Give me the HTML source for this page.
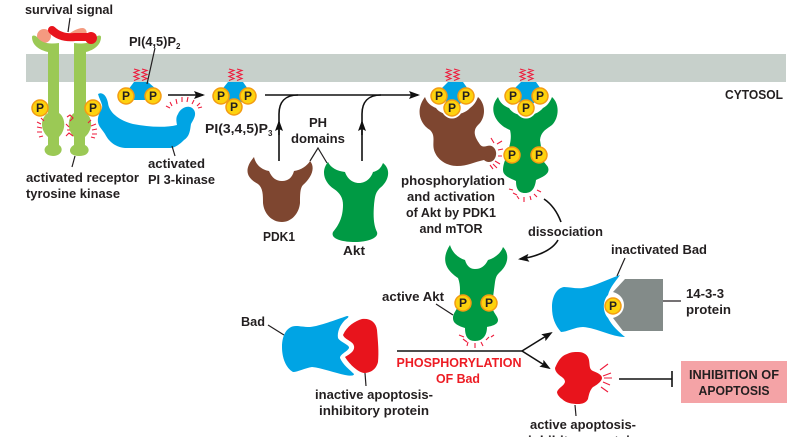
<!DOCTYPE html>
<html><head><meta charset="utf-8"><style>
html,body{margin:0;padding:0;background:#fff}
svg{display:block}
text{font-family:"Liberation Sans",sans-serif;font-weight:bold;font-size:13px;fill:#231f20}
.m{text-anchor:middle}
.l{stroke:#231f20;stroke-width:1.2;fill:none}
.a{stroke:#111;stroke-width:1.6;fill:none}
.r{stroke:#ee1c3c;stroke-width:1.1;fill:none}
.c{fill:#fdd20e;stroke:#f39c12;stroke-width:1.5}
.p{font-size:12px;text-anchor:middle}
</style></head><body>
<svg width="808" height="437" viewBox="0 0 808 437" xmlns="http://www.w3.org/2000/svg">
<defs><marker id="ah" markerWidth="11" markerHeight="8" refX="9" refY="4" orient="auto" markerUnits="userSpaceOnUse"><path d="M0,0L11,4L0,8L2,4Z" fill="#111"/></marker></defs>
<rect x="26" y="54" width="760" height="28" fill="#c7d0cb"/>

<!-- receptor -->
<circle cx="44" cy="36" r="7" fill="#f49a80"/>
<path d="M66,36C71,32 77,28 83,28C88,29 88,36 82,38Z" fill="#f49a80"/>
<path d="M32,37C32,45 39,50 48,52L48,113C40,118 40,130 48,137L48,145C42,148 44,156 53,156C62,156 64,148 59,145L59,137C66,130 66,118 59,113L59,43C50,44 42,44 37,37C35,35 32,35 32,37Z" fill="#9bc955"/>
<path d="M101,37C101,45 94,50 86,52L86,113C93,118 93,130 85,137L85,145C91,148 90,156 79,156C68,156 68,148 74,145L74,137C67,130 67,118 74,113L74,43C83,44 91,44 96,37C98,35 101,35 101,37Z" fill="#9bc955"/>
<path d="M52,30C58,36 66,38 75,37L90,37" stroke="#e8141c" stroke-width="8" stroke-linecap="round" fill="none"/>
<circle cx="91" cy="38" r="6" fill="#e8141c"/>
<path d="M70,18L68,32" class="l"/>
<circle cx="40" cy="108" r="8" class="c"/><text x="40" y="112" class="p">P</text>
<circle cx="93" cy="108" r="8" class="c"/><text x="93" y="112" class="p">P</text>
<path d="M41,118l3,3M37,122l4,2M37,127l5,1M37,132l5,0M39,137l4,-1M67,117l3,-2l3,3l-3,3M66,124l3,3M67,130l3,0M66,136l3,-3l4,3M91,120l-3,3M96,124l-5,2M97,129l-5,1M97,134l-5,0M95,138l-4,-1" class="r"/>
<path d="M75,156L72,167" class="l"/>
<text x="25" y="14" textLength="88" lengthAdjust="spacingAndGlyphs">survival signal</text>
<text x="26" y="182" textLength="113" lengthAdjust="spacingAndGlyphs">activated receptor</text>
<text x="26" y="198" textLength="94" lengthAdjust="spacingAndGlyphs">tyrosine kinase</text>

<!-- PI3K -->
<path d="M98,94C103,91 107,97 108,103C109,112 118,120 133,124C148,127 165,128 177,125C176,120 176,117 178,114C181,107 190,104 194,110C197,115 193,120 191,124C190,130 190,136 184,140C180,144 175,148 170,148L125,148C114,147 108,140 105,134C101,128 97,125 98,118C99,112 103,110 102,105C101,101 99,98 98,94Z" fill="#00a4e4"/>
<path d="M172,106l-2,-4M177,104l-1,-5M182,102v-5M187,102l1,-5M192,104l2,-4M197,106l3,-3M170,108l-4,-2M198,108l4,-1" class="r"/>
<path d="M172,146L175,156" class="l"/>
<text x="148" y="168" textLength="57" lengthAdjust="spacingAndGlyphs">activated</text>
<text x="148" y="184" textLength="67" lengthAdjust="spacingAndGlyphs">PI 3-kinase</text>

<!-- PI(4,5)P2 -->
<path d="M134,69l5,1.5l-5,2l5,2l-5,2l5,2l-5,2M142,69l5,1.5l-5,2l5,2l-5,2l5,2l-5,2" class="r"/>
<path d="M134,82H148L157,90V100H128V90Z" fill="#00a4e4"/>
<circle cx="126" cy="96" r="8" class="c"/><text x="126" y="100" class="p">P</text>
<circle cx="153" cy="96" r="8" class="c"/><text x="153" y="100" class="p">P</text>
<path d="M155,48L147,84" class="l"/>
<text x="129" y="46" textLength="47" lengthAdjust="spacingAndGlyphs">PI(4,5)P</text><text x="176" y="49" style="font-size:8px">2</text>

<path d="M168,95H203" class="a" marker-end="url(#ah)"/>

<!-- PI(3,4,5)P3 -->
<path d="M229,69l5,1.5l-5,2l5,2l-5,2l5,2l-5,2M237,69l5,1.5l-5,2l5,2l-5,2l5,2l-5,2" class="r"/>
<path d="M228,82H243L250,92L240,104H228L220,92Z" fill="#00a4e4"/>
<circle cx="221" cy="96" r="8" class="c"/><text x="221" y="100" class="p">P</text>
<circle cx="248" cy="96" r="8" class="c"/><text x="248" y="100" class="p">P</text>
<circle cx="234" cy="107" r="8" class="c"/><text x="234" y="111" class="p">P</text>
<text x="205" y="133" textLength="63" lengthAdjust="spacingAndGlyphs">PI(3,4,5)P</text><text x="268" y="136" style="font-size:8px">3</text>

<!-- main arrows -->
<path d="M265,95H418" class="a" marker-end="url(#ah)"/>
<path d="M279,161V114C279,102 285,95 298,95" class="a"/>
<path d="M279,135V122" class="a" marker-end="url(#ah)"/>
<path d="M362,161V114C362,102 368,95 381,95" class="a"/>
<path d="M362,135V122" class="a" marker-end="url(#ah)"/>
<text x="318" y="127" class="m">PH</text>
<text x="318" y="143" class="m" textLength="54" lengthAdjust="spacingAndGlyphs">domains</text>
<path d="M310,161L318,148L327,163" class="l"/>

<!-- PDK1 -->
<path d="M254,157C256,166 263,170 269,171C272,178 276,181 282,181C288,181 292,178 294,171C301,170 307,166 310,161C316,168 311,178 303,185C300,188 300,195 300,203C299,214 291,222 282,222C272,222 264,214 263,203C263,195 263,188 258,184C247,178 243,170 254,157Z" fill="#7e4630"/>
<text x="279" y="241" class="m" textLength="32" lengthAdjust="spacingAndGlyphs">PDK1</text>

<!-- Akt -->
<path d="M328,162C331,168 337,171 345,172C347,178 352,183 359,183C366,183 371,178 373,172C378,171 381,168 383,163C392,170 388,182 380,188C375,193 375,197 374,205C373,218 374,226 377,232C379,238 368,242 355,242C343,242 330,239 333,232C338,226 343,218 343,205C343,198 340,193 334,189C325,183 320,172 328,162Z" fill="#009a44"/>
<text x="354" y="255" class="m" textLength="22" lengthAdjust="spacingAndGlyphs">Akt</text>

<!-- brown active -->
<path d="M425,97C427,103 431,106 436,108C442,117 462,117 470,108C474,105 476,102 478,97C486,104 486,118 478,125C473,130 474,136 479,143C481,147 484,147 487,146C493,144 497,150 496,155C495,162 488,164 484,160C474,162 468,166 457,166C447,166 437,160 434,150C432,142 436,136 430,130C420,124 415,110 425,97Z" fill="#7e4630"/>
<circle cx="439" cy="96" r="10.5" fill="#fff"/><circle cx="466" cy="96" r="10.5" fill="#fff"/><circle cx="452" cy="108" r="10.5" fill="#fff"/>
<path d="M448,82H463L470,92L460,104H448L438,92Z" fill="#00a4e4"/>
<path d="M446,69l5,1.5l-5,2l5,2l-5,2l5,2l-5,2M454,69l5,1.5l-5,2l5,2l-5,2l5,2l-5,2M520,69l5,1.5l-5,2l5,2l-5,2l5,2l-5,2M528,69l5,1.5l-5,2l5,2l-5,2l5,2l-5,2" class="r"/>
<circle cx="439" cy="96" r="8" class="c"/><text x="439" y="100" class="p">P</text>
<circle cx="466" cy="96" r="8" class="c"/><text x="466" y="100" class="p">P</text>
<circle cx="452" cy="108" r="8" class="c"/><text x="452" y="112" class="p">P</text>
<path d="M491,138l3,5M497,144l5,-3M498,150l5,-1M498,156h4M495,161l5,3M493,164l4,4M490,165l3,4" class="r"/>

<!-- green active -->
<path d="M498,97C500,103 504,106 509,108C515,118 535,118 543,108C547,106 550,102 552,97C560,104 559,118 552,125C545,130 541,132 540,140L543,160C545,165 550,166 548,172C546,176 540,178 536,180C535,188 532,193 525,193C518,193 516,188 516,181C510,178 503,176 503,170C503,165 505,160 507,155C510,145 512,138 510,130C497,125 487,110 498,97Z" fill="#009a44"/>
<circle cx="513" cy="96" r="10.5" fill="#fff"/><circle cx="540" cy="96" r="10.5" fill="#fff"/><circle cx="526" cy="108" r="10.5" fill="#fff"/>
<path d="M521,82H536L543,92L533,104H521L511,92Z" fill="#00a4e4"/>
<circle cx="513" cy="96" r="8" class="c"/><text x="513" y="100" class="p">P</text>
<circle cx="540" cy="96" r="8" class="c"/><text x="540" y="100" class="p">P</text>
<circle cx="526" cy="108" r="8" class="c"/><text x="526" y="112" class="p">P</text>
<circle cx="512" cy="155" r="8" class="c"/><text x="512" y="159" class="p">P</text>
<circle cx="539" cy="155" r="8" class="c"/><text x="539" y="159" class="p">P</text>
<path d="M509,189l4,1M513,193l4,2M517,196l2,3M524,197v5M530,196l1,4M534,194l3,3M537,190l4,2" class="r"/>
<text x="453" y="185" class="m" textLength="104" lengthAdjust="spacingAndGlyphs">phosphorylation</text>
<text x="451" y="201" class="m" textLength="88" lengthAdjust="spacingAndGlyphs">and activation</text>
<text x="451" y="217" class="m" textLength="90" lengthAdjust="spacingAndGlyphs">of Akt by PDK1</text>
<text x="451" y="233" class="m" textLength="63" lengthAdjust="spacingAndGlyphs">and mTOR</text>
<text x="528" y="236" textLength="75" lengthAdjust="spacingAndGlyphs">dissociation</text>
<path d="M544,199C553,205 558,214 561,222" class="a"/>
<path d="M558,240C552,251 535,257 520,259" class="a" marker-end="url(#ah)"/>

<!-- active Akt lower -->
<path d="M450,245C452,252 458,258 465,260C467,267 471,269 475,269C481,269 485,266 488,260C495,258 501,253 503,247C510,254 508,265 500,272C497,275 496,276 495,282L492,305C492,312 498,316 498,320C498,325 491,326 487,327C487,335 483,341 475,341C467,341 465,335 465,328C459,326 453,324 453,318C453,312 458,310 459,302C460,294 461,286 458,278C449,272 439,262 450,245Z" fill="#009a44"/>
<circle cx="463" cy="303" r="8" class="c"/><text x="463" y="307" class="p">P</text>
<circle cx="489" cy="303" r="8" class="c"/><text x="489" y="307" class="p">P</text>
<path d="M459,335l5,2M463,339l4,3M468,342l-1,4M475,343v5M481,342l2,4M486,340l3,-3M491,337l3,-2" class="r"/>
<path d="M436,304L453,315" class="l"/>
<text x="382" y="301" textLength="62" lengthAdjust="spacingAndGlyphs">active Akt</text>

<!-- Bad -->
<path d="M282,347C282,335 287,326 296,326C300,326 303,327 310,327C320,326 335,320 347,316C350,316 348,318 345,320C340,325 337,332 338,338C340,342 350,345 349,348C347,352 340,354 340,358C343,365 350,370 354,374C354,376 350,376 345,375C335,373 322,368 312,367C305,368 298,372 293,372C286,368 282,358 282,347Z" fill="#00a4e4"/>
<path d="M343,335C347,326 355,321 362,319C370,318 376,322 377,330C378,342 379,352 378,362C376,370 370,373 364,373C358,372 350,365 345,357C350,354 355,351 354,346C353,341 345,340 343,335Z" fill="#e8141c"/>
<path d="M268,325L284,335" class="l"/>
<path d="M365,373L366,386" class="l"/>
<text x="241" y="326" textLength="24" lengthAdjust="spacingAndGlyphs">Bad</text>
<text x="374" y="399" class="m" textLength="118" lengthAdjust="spacingAndGlyphs">inactive apoptosis-</text>
<text x="374" y="415" class="m" textLength="110" lengthAdjust="spacingAndGlyphs">inhibitory protein</text>

<!-- phosphorylation -->
<path d="M397,351H522" class="a"/>
<path d="M522,351L551,333" class="a" marker-end="url(#ah)"/>
<path d="M522,351L549,368" class="a" marker-end="url(#ah)"/>
<text x="459" y="367" class="m" style="fill:#ed1c24" textLength="125" lengthAdjust="spacingAndGlyphs">PHOSPHORYLATION</text>
<text x="458" y="383" class="m" style="fill:#ed1c24" textLength="44" lengthAdjust="spacingAndGlyphs">OF Bad</text>

<!-- inactivated Bad -->
<path d="M625,279H663V331H623L613,318C620,316 624,311 624,305C624,299 620,294 613,292Z" fill="#838b89"/>
<path d="M552,307C552,296 557,288 564,287C570,287 576,289 583,288C595,286 608,279 620,275C616,281 610,287 608,295C603,300 602,311 608,318C612,326 619,332 625,337C612,337 597,328 583,327C575,327 567,332 561,332C555,325 552,318 552,307Z" fill="#00a4e4"/>
<circle cx="613" cy="306" r="8" class="c"/><text x="613" y="310" class="p">P</text>
<path d="M625,258L617,276" class="l"/>
<path d="M663,301H681" class="l"/>
<text x="611" y="254" textLength="96" lengthAdjust="spacingAndGlyphs">inactivated Bad</text>
<text x="686" y="298" textLength="38" lengthAdjust="spacingAndGlyphs">14-3-3</text>
<text x="686" y="314" textLength="45" lengthAdjust="spacingAndGlyphs">protein</text>

<!-- active inhibitor -->
<path d="M555,368C558,361 561,356 567,354C571,352 574,352 578,352C584,352 588,355 589,360C590,366 589,369 593,371C598,373 602,375 602,378C602,381 597,385 593,387C590,390 589,394 588,399C586,403 582,404 578,404C572,404 566,403 562,399C559,397 557,394 557,392C558,388 564,386 565,382C565,378 561,377 558,374C556,372 555,370 555,368Z" fill="#e8141c"/>
<path d="M600,370l8,-6M603,376l8,-3M604,378h8M603,382l7,3M601,387l7,5" class="r"/>
<path d="M575,405L576,416" class="l"/>
<path d="M619,379H672" class="a"/><path d="M672,371V387" class="a"/>
<text x="583" y="429" class="m" textLength="106" lengthAdjust="spacingAndGlyphs">active apoptosis-</text>
<text x="583" y="445" class="m" textLength="110" lengthAdjust="spacingAndGlyphs">inhibitory protein</text>
<rect x="681" y="361" width="106" height="42" fill="#f4a3a6"/>
<text x="734" y="379" class="m" textLength="90" lengthAdjust="spacingAndGlyphs">INHIBITION OF</text>
<text x="734" y="395" class="m" textLength="71" lengthAdjust="spacingAndGlyphs">APOPTOSIS</text>
<text x="725" y="99" textLength="58" lengthAdjust="spacingAndGlyphs">CYTOSOL</text>
</svg>
</body></html>
